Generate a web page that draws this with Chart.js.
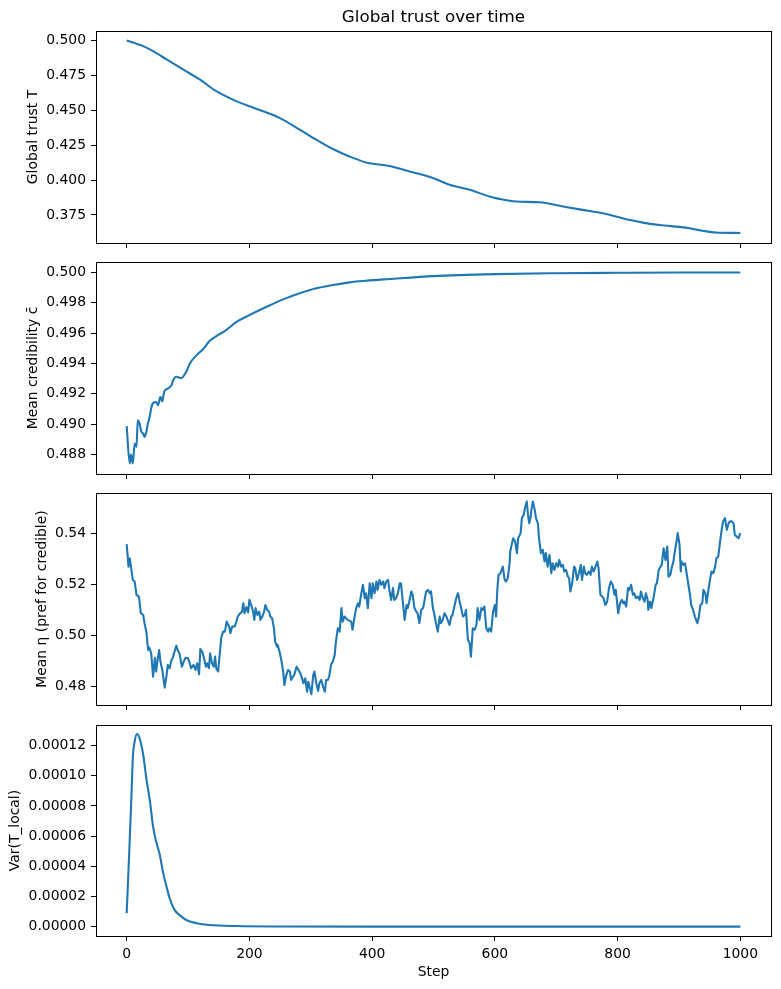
<!DOCTYPE html>
<html>
<head>
<meta charset="utf-8">
<title>Global trust over time</title>
<script src="https://cdn.jsdelivr.net/npm/chart.js@4.4.1/dist/chart.umd.min.js"></script>
<style>
    html, body { margin: 0; padding: 0; background: #fff; }
    #figure { position: relative; width: 781px; height: 989px; }
    #figure canvas { position: absolute; left: 0; }
</style>
</head>
<body>
<div id="figure">
    <canvas id="trust-canvas" width="781" height="255" style="top:0px"></canvas>
    <canvas id="cred-canvas" width="781" height="231" style="top:255px"></canvas>
    <canvas id="eta-canvas" width="781" height="231" style="top:486px"></canvas>
    <canvas id="var-canvas" width="781" height="272" style="top:717px"></canvas>
</div>
<script>
// shared x axis (steps)
const xTicks = [0, 200, 400, 600, 800, 1000];

// panel 1: global trust T
const trustSteps = [0, 27, 43, 65, 92, 119, 146, 173, 200, 227, 249, 282, 309, 336, 363, 390, 428, 461, 499, 526,
    559, 591, 607, 635, 673, 711, 743, 776, 808, 841, 868, 911, 938, 960, 1000];
const trustValues = [0.5000, 0.4959, 0.4923, 0.4864, 0.4792, 0.4720, 0.4636, 0.4576, 0.4528, 0.4485, 0.4445, 0.4361,
    0.4289, 0.4222, 0.4169, 0.4126, 0.4100, 0.4061, 0.4014, 0.3966, 0.3930, 0.3882, 0.3865, 0.3846, 0.3841, 0.3810,
    0.3786, 0.3762, 0.3726, 0.3695, 0.3678, 0.3659, 0.3637, 0.3624, 0.3621];
const trustTicks = [0.375, 0.400, 0.425, 0.450, 0.475, 0.500];

// panel 2: mean credibility
const credSteps = [0, 5, 7, 10, 13, 16, 18, 21, 24, 27, 29, 32, 34, 38, 40, 44, 48, 51, 55, 58, 61, 67, 73, 75, 81,
    89, 97, 103, 114, 124, 135, 146, 162, 179, 200, 228, 255, 282, 309, 336, 363, 390, 428, 500, 600, 700, 800, 900, 1000];
const credValues = [0.48987, 0.48741, 0.48800, 0.48741, 0.48873, 0.48850, 0.49026, 0.49004, 0.48949, 0.48938, 0.48916,
    0.48949, 0.48993, 0.49059, 0.49107, 0.49143, 0.49146, 0.49125, 0.49180, 0.49150, 0.49213, 0.49235, 0.49257, 0.49283,
    0.49312, 0.49304, 0.49345, 0.49400, 0.49455, 0.49492, 0.49547, 0.49580, 0.49620, 0.49674, 0.49718, 0.49773, 0.49822,
    0.49862, 0.49895, 0.49916, 0.49934, 0.49945, 0.49956, 0.49975, 0.49988, 0.49994, 0.49997, 0.49999, 0.49999];
const credTicks = [0.488, 0.490, 0.492, 0.494, 0.496, 0.498, 0.500];

// panel 3: mean eta
const etaSteps = [0, 3, 5, 7, 10, 13, 16, 20, 23, 27, 29, 32, 35, 37, 40, 43, 46, 48, 50, 53, 55, 58, 62, 65, 67, 70,
    73, 75, 78, 81, 83, 86, 90, 93, 96, 100, 102, 105, 109, 112, 115, 118, 120, 123, 126, 129, 131, 134, 136, 139, 142,
    144, 146, 149, 152, 154, 157, 160, 163, 167, 169, 172, 176, 178, 181, 185, 188, 190, 192, 195, 198, 200, 203, 206,
    208, 210, 213, 216, 218, 221, 224, 226, 229, 232, 234, 237, 240, 242, 245, 246, 249, 252, 255, 257, 260, 263, 266,
    268, 271, 273, 277, 280, 283, 285, 288, 291, 294, 296, 298, 301, 304, 306, 309, 312, 314, 317, 320, 323, 325, 328,
    330, 333, 336, 339, 341, 344, 347, 350, 352, 355, 360, 366, 368, 371, 374, 377, 379, 382, 385, 388, 390, 393, 396,
    399, 401, 404, 407, 409, 412, 415, 418, 420, 423, 426, 428, 431, 434, 436, 439, 442, 445, 447, 450, 453, 456, 458,
    461, 464, 466, 469, 472, 474, 477, 480, 483, 485, 488, 491, 494, 496, 499, 501, 504, 507, 510, 512, 515, 518, 521,
    523, 526, 529, 531, 534, 537, 540, 542, 545, 548, 551, 553, 556, 559, 561, 564, 567, 570, 572, 575, 578, 580, 583,
    586, 589, 591, 594, 597, 600, 602, 604, 606, 609, 613, 616, 618, 621, 624, 625, 628, 630, 633, 636, 638, 642, 644,
    647, 649, 652, 654, 656, 658, 660, 662, 665, 667, 670, 672, 675, 678, 681, 683, 686, 689, 692, 694, 697, 700, 703,
    705, 708, 711, 713, 716, 719, 721, 723, 726, 729, 731, 734, 737, 740, 742, 745, 747, 750, 753, 756, 758, 761, 764,
    767, 769, 772, 775, 777, 780, 783, 786, 789, 792, 795, 797, 801, 804, 807, 809, 811, 814, 817, 819, 822, 825, 827,
    830, 833, 836, 838, 841, 844, 846, 849, 850, 853, 855, 859, 862, 864, 867, 870, 872, 875, 878, 881, 883, 886, 888,
    891, 894, 896, 898, 901, 903, 904, 907, 910, 912, 915, 918, 920, 923, 926, 930, 932, 935, 938, 940, 943, 945, 948,
    951, 953, 956, 959, 961, 964, 967, 970, 972, 975, 978, 981, 983, 986, 989, 991, 994, 997, 1000];
const etaValues = [0.5357, 0.5269, 0.5302, 0.5269, 0.5217, 0.5211, 0.5159, 0.5152, 0.5087, 0.5080, 0.5048, 0.5015,
    0.4943, 0.4952, 0.4930, 0.4839, 0.4913, 0.4859, 0.4898, 0.4943, 0.4898, 0.4865, 0.4796, 0.4845, 0.4885, 0.4872,
    0.4904, 0.4911, 0.4937, 0.4960, 0.4943, 0.4930, 0.4878, 0.4898, 0.4913, 0.4911, 0.4898, 0.4872, 0.4885, 0.4865,
    0.4891, 0.4848, 0.4947, 0.4937, 0.4911, 0.4878, 0.4891, 0.4872, 0.4930, 0.4891, 0.4878, 0.4917, 0.4872, 0.4859,
    0.4937, 0.4989, 0.5015, 0.5015, 0.5054, 0.5035, 0.5009, 0.5035, 0.5035, 0.5048, 0.5074, 0.5087, 0.5093, 0.5126,
    0.5087, 0.5111, 0.5090, 0.5139, 0.5119, 0.5093, 0.5061, 0.5107, 0.5080, 0.5093, 0.5061, 0.5074, 0.5093, 0.5119,
    0.5100, 0.5093, 0.5074, 0.5067, 0.5028, 0.4976, 0.4956, 0.4963, 0.4937, 0.4904, 0.4859, 0.4806, 0.4845, 0.4865,
    0.4859, 0.4826, 0.4839, 0.4845, 0.4878, 0.4865, 0.4852, 0.4839, 0.4813, 0.4832, 0.4780, 0.4819, 0.4800, 0.4770,
    0.4845, 0.4859, 0.4813, 0.4783, 0.4813, 0.4826, 0.4800, 0.4780, 0.4826, 0.4826, 0.4839, 0.4885, 0.4898, 0.4924,
    0.4976, 0.5028, 0.5015, 0.5107, 0.5054, 0.5074, 0.5061, 0.5054, 0.5022, 0.5067, 0.5107, 0.5126, 0.5113, 0.5159,
    0.5198, 0.5146, 0.5165, 0.5107, 0.5204, 0.5146, 0.5204, 0.5165, 0.5211, 0.5178, 0.5217, 0.5198, 0.5211, 0.5185,
    0.5211, 0.5217, 0.5178, 0.5139, 0.5185, 0.5139, 0.5146, 0.5165, 0.5204, 0.5204, 0.5132, 0.5061, 0.5119, 0.5107,
    0.5139, 0.5172, 0.5159, 0.5107, 0.5093, 0.5087, 0.5048, 0.5100, 0.5107, 0.5132, 0.5172, 0.5178, 0.5165, 0.5172,
    0.5107, 0.5087, 0.5048, 0.5015, 0.5074, 0.5048, 0.5061, 0.5087, 0.5074, 0.5061, 0.5041, 0.5074, 0.5080, 0.5113,
    0.5146, 0.5165, 0.5139, 0.5107, 0.5074, 0.5080, 0.5100, 0.4983, 0.4969, 0.4917, 0.5028, 0.5022, 0.5041, 0.5107,
    0.5061, 0.5107, 0.5100, 0.5113, 0.5028, 0.5015, 0.5028, 0.5015, 0.5093, 0.5119, 0.5074, 0.5178, 0.5237, 0.5243,
    0.5269, 0.5217, 0.5211, 0.5224, 0.5282, 0.5328, 0.5361, 0.5380, 0.5367, 0.5322, 0.5380, 0.5400, 0.5459, 0.5472,
    0.5498, 0.5524, 0.5472, 0.5439, 0.5459, 0.5498, 0.5524, 0.5491, 0.5459, 0.5439, 0.5380, 0.5322, 0.5335, 0.5289,
    0.5322, 0.5269, 0.5315, 0.5243, 0.5282, 0.5256, 0.5282, 0.5269, 0.5295, 0.5269, 0.5276, 0.5250, 0.5256, 0.5230,
    0.5224, 0.5172, 0.5204, 0.5269, 0.5263, 0.5217, 0.5243, 0.5276, 0.5217, 0.5269, 0.5243, 0.5237, 0.5250, 0.5237,
    0.5269, 0.5250, 0.5269, 0.5289, 0.5263, 0.5159, 0.5152, 0.5146, 0.5119, 0.5132, 0.5185, 0.5211, 0.5198, 0.5159,
    0.5178, 0.5087, 0.5126, 0.5139, 0.5126, 0.5132, 0.5113, 0.5185, 0.5178, 0.5198, 0.5159, 0.5165, 0.5146, 0.5152,
    0.5139, 0.5172, 0.5146, 0.5132, 0.5165, 0.5139, 0.5100, 0.5132, 0.5107, 0.5152, 0.5198, 0.5204, 0.5256, 0.5269,
    0.5276, 0.5341, 0.5295, 0.5348, 0.5230, 0.5237, 0.5263, 0.5289, 0.5341, 0.5367, 0.5400, 0.5354, 0.5250, 0.5289,
    0.5276, 0.5282, 0.5250, 0.5204, 0.5159, 0.5119, 0.5100, 0.5074, 0.5048, 0.5067, 0.5119, 0.5126, 0.5178, 0.5165,
    0.5126, 0.5178, 0.5224, 0.5250, 0.5243, 0.5269, 0.5302, 0.5308, 0.5367, 0.5420, 0.5446, 0.5459, 0.5413, 0.5439,
    0.5446, 0.5446, 0.5439, 0.5393, 0.5387, 0.5380, 0.5400];
const etaTicks = [0.48, 0.50, 0.52, 0.54];

// panel 4: variance of local trust
const varSteps = [0, 4, 8, 10, 13, 17, 21, 27, 32, 38, 43, 48, 54, 59, 65, 70, 78, 86, 97, 114, 135, 178, 250, 400,
    600, 800, 1000];
const varValues = [0.0000089, 0.0000475, 0.0000895, 0.0001117, 0.0001227, 0.0001277, 0.0001249, 0.0001138, 0.0000984,
    0.0000829, 0.0000663, 0.0000564, 0.0000475, 0.0000365, 0.0000265, 0.0000188, 0.0000111, 0.0000078, 0.0000044,
    0.0000023, 0.0000011, 0.0000004, 0.0000001, 0, 0, 0, 0];
const varTicks = [0, 0.00002, 0.00004, 0.00006, 0.00008, 0.00010, 0.00012];

Chart.defaults.font.family = "'DejaVu Sans', sans-serif";
Chart.defaults.font.size = 13.9;
Chart.defaults.color = '#000';

const LINE_BLUE = '#1f77b4';
const AXIS_LEFT = 96;

// matplotlib-style box around each axes
const axesFrame = {
    id: 'axesFrame',
    afterDatasetsDraw(chart) {
        const {ctx, chartArea: a} = chart;
        const l = Math.round(a.left) + 0.5, t = Math.round(a.top) + 0.5;
        const r = Math.round(a.right) + 0.5, b = Math.round(a.bottom) + 0.5;
        ctx.save();
        ctx.strokeStyle = '#000';
        ctx.lineWidth = 1;
        ctx.strokeRect(l, t, r - l, b - t);
        ctx.restore();
    }
};

function fixedTicks(values) {
    return scale => { scale.ticks = values.map(v => ({value: v})); };
}

/**
 * one subplot of the figure
 */
function makePanel(canvas, p) {
    const points = p.steps.map((s, i) => ({x: s, y: p.values[i]}));
    return new Chart(canvas, {
        type: 'line',
        data: {
            datasets: [{
                data: points,
                borderColor: LINE_BLUE,
                borderWidth: 2.1,
                borderJoinStyle: 'round',
                pointRadius: 0,
                fill: false,
                tension: p.smooth ? 0.4 : 0,
                cubicInterpolationMode: p.smooth ? 'monotone' : 'default',
            }]
        },
        options: {
            responsive: false,
            animation: false,
            events: [],
            layout: {padding: {left: 0, right: 10, top: p.padTop, bottom: 0}},
            plugins: {
                legend: {display: false},
                tooltip: {enabled: false},
                title: {
                    display: !!p.title,
                    text: p.title || '',
                    fullSize: false,
                    color: '#000',
                    font: {size: 16.7, weight: 'normal'},
                    padding: {top: 8, bottom: 3},
                },
            },
            scales: {
                x: {
                    type: 'linear',
                    min: -50,
                    max: 1050,
                    afterBuildTicks: fixedTicks(xTicks),
                    afterFit: s => { s.height = p.xHeight; s.paddingLeft = 0; s.paddingRight = 0; },
                    grid: {drawOnChartArea: false, tickLength: 5, tickColor: '#000', lineWidth: 1},
                    border: {display: false},
                    ticks: {display: !!p.xTitle, padding: 5, maxRotation: 0, autoSkip: false, callback: v => String(v)},
                    title: {
                        display: !!p.xTitle,
                        text: p.xTitle || '',
                        color: '#000',
                        padding: {top: 2, bottom: 8.7},
                    },
                },
                y: {
                    type: 'linear',
                    min: p.yMin,
                    max: p.yMax,
                    afterBuildTicks: fixedTicks(p.yTicks),
                    afterFit: s => { s.width = AXIS_LEFT; s.paddingTop = 0; s.paddingBottom = 0; },
                    grid: {drawOnChartArea: false, tickLength: 5, tickColor: '#000', lineWidth: 1},
                    border: {display: false},
                    ticks: {padding: 5, autoSkip: false, callback: v => Number(v).toFixed(p.decimals)},
                    title: {
                        display: true,
                        text: p.yLabel,
                        color: '#000',
                        padding: {top: p.labelPad, bottom: 0},
                    },
                },
            },
        },
        plugins: [axesFrame],
    });
}

makePanel(document.querySelector('#trust-canvas'), {
    steps: trustSteps, values: trustValues, yTicks: trustTicks,
    yMin: 0.3549, yMax: 0.5067, decimals: 3, smooth: true,
    yLabel: 'Global trust T', labelPad: 25, padTop: 0, xHeight: 12,
    title: 'Global trust over time',
});

makePanel(document.querySelector('#cred-canvas'), {
    steps: credSteps, values: credValues, yTicks: credTicks,
    yMin: 0.48672, yMax: 0.50068, decimals: 3, smooth: true,
    yLabel: 'Mean credibility c\u0304', labelPad: 25, padTop: 7, xHeight: 12,
});

makePanel(document.querySelector('#eta-canvas'), {
    steps: etaSteps, values: etaValues, yTicks: etaTicks,
    yMin: 0.4728, yMax: 0.5557, decimals: 2, smooth: false,
    yLabel: 'Mean \u03b7 (pref for credible)', labelPad: 34, padTop: 7, xHeight: 12,
});

makePanel(document.querySelector('#var-canvas'), {
    steps: varSteps, values: varValues, yTicks: varTicks,
    yMin: -0.0000062, yMax: 0.0001337, decimals: 5, smooth: true,
    yLabel: 'Var(T_local)', labelPad: 7, padTop: 8, xHeight: 53,
    xTitle: 'Step',
});
</script>
</body>
</html>
